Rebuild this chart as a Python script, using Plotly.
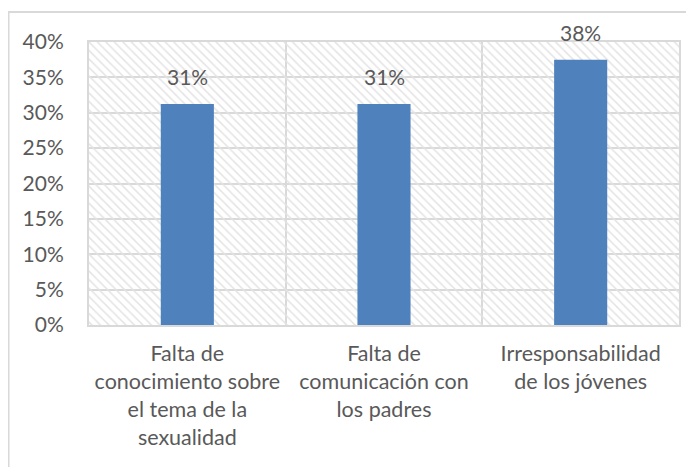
import plotly.graph_objects as go

categorias = [
    "Falta de<br>conocimiento sobre<br>el tema de la<br>sexualidad",
    "Falta de<br>comunicación con<br>los padres",
    "Irresponsabilidad<br>de los jóvenes",
]
valores = [0.3125, 0.3125, 0.375]
etiquetas = ["31%", "31%", "38%"]

y_max = 0.40
y_ticks = [0, 0.05, 0.10, 0.15, 0.20, 0.25, 0.30, 0.35, 0.40]

gris = "#d9d9d9"
texto = "#595959"
fuente = "Lato"

fig = go.Figure()

# fondo rayado del área de trazado (una barra transparente que cubre todo)
fig.add_trace(go.Bar(
    x=[categorias[1]], y=[y_max], width=[3],
    marker=dict(color="rgba(0,0,0,0)", line=dict(width=0),
                pattern=dict(shape="\\", fgcolor="#e3e3e3", size=6,
                             solidity=0.25, fillmode="replace")),
    hoverinfo="skip", showlegend=False,
))

fig.add_trace(go.Bar(
    x=categorias, y=valores, width=0.27,
    marker=dict(color="#4f81bd", line=dict(width=0)),
    showlegend=False,
))

for c, v, t in zip(categorias, valores, etiquetas):
    fig.add_annotation(x=c, y=v, text=t, showarrow=False, yanchor="bottom",
                       yshift=13, font=dict(family=fuente, size=21, color=texto))

# marco exterior del gráfico
fig.add_shape(type="rect", xref="paper", yref="paper",
              x0=-0.1364, x1=1.2, y0=-0.7, y1=1.106,
              line=dict(color=gris, width=2), layer="below")

fig.update_layout(
    width=694, height=467,
    margin=dict(l=81, r=23, t=34, b=150),
    barmode="overlay",
    plot_bgcolor="white", paper_bgcolor="white",
    font=dict(family=fuente, size=21, color=texto),
)
fig.update_xaxes(
    type="category", categoryorder="array", categoryarray=categorias,
    range=[-0.5, 2.5], tickson="boundaries", ticks="", showgrid=True,
    gridcolor=gris, gridwidth=2, showline=True, mirror=True,
    linecolor=gris, linewidth=2, ticklabelstandoff=8,
    tickfont=dict(size=21.5, color=texto),
)
fig.update_yaxes(
    range=[0, y_max], tickvals=y_ticks, tickformat=".0%", showgrid=True,
    gridcolor=gris, gridwidth=2, zeroline=False, showline=True,
    mirror=True, linecolor=gris, linewidth=2, ticks="",
    ticklabelstandoff=19, tickfont=dict(size=21, color=texto),
)

fig.write_html("out.html")
